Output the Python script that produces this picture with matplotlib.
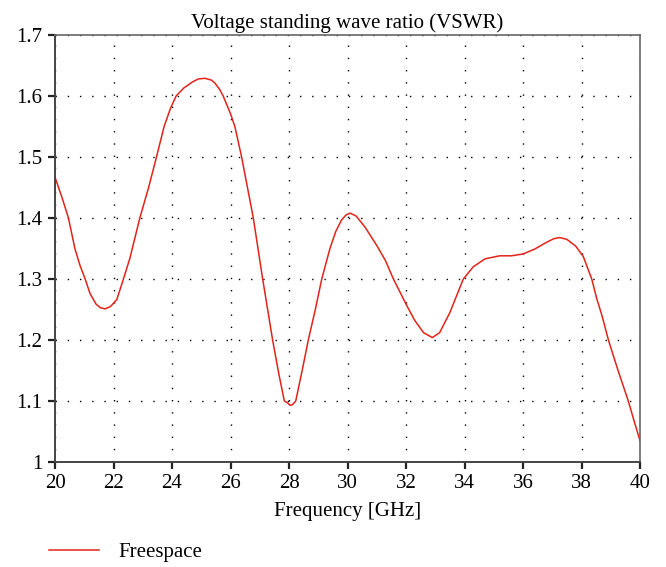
import matplotlib
matplotlib.use("Agg")
import matplotlib.pyplot as plt
from matplotlib.ticker import FuncFormatter

freq = [20.0, 20.25, 20.46, 20.68, 20.85, 21.03, 21.2, 21.4, 21.55, 21.71, 21.9, 22.11, 22.34,
        22.56, 22.9, 23.2, 23.47, 23.73, 23.95, 24.14, 24.4, 24.7, 24.9, 25.13, 25.35, 25.47,
        25.64, 25.75, 26.0, 26.15, 26.38, 26.58, 26.78, 27.1, 27.44, 27.65, 27.84, 27.95,
        28.03, 28.12, 28.23, 28.45, 28.66, 28.9, 29.12, 29.4, 29.6, 29.8, 29.95, 30.09, 30.3,
        30.6, 31.0, 31.3, 31.57, 32.02, 32.3, 32.6, 32.9, 33.15, 33.5, 33.96, 34.3, 34.7,
        35.2, 35.6, 36.0, 36.4, 36.8, 37.05, 37.25, 37.5, 37.8, 38.06, 38.35, 38.52, 38.7,
        38.92, 39.25, 39.6, 39.8, 40.0]
vswr = [1.467, 1.432, 1.400, 1.350, 1.323, 1.300, 1.276, 1.259, 1.253, 1.251, 1.255, 1.266,
        1.300, 1.334, 1.400, 1.450, 1.500, 1.550, 1.580, 1.600, 1.613, 1.623, 1.628, 1.629,
        1.626, 1.621, 1.610, 1.600, 1.571, 1.550, 1.500, 1.450, 1.400, 1.300, 1.200, 1.145,
        1.100, 1.097, 1.093, 1.094, 1.100, 1.150, 1.200, 1.250, 1.300, 1.350, 1.378, 1.397,
        1.405, 1.408, 1.403, 1.385, 1.355, 1.330, 1.300, 1.257, 1.232, 1.212, 1.204, 1.212,
        1.245, 1.300, 1.320, 1.333, 1.338, 1.338, 1.341, 1.349, 1.360, 1.366, 1.368, 1.365,
        1.354, 1.337, 1.300, 1.268, 1.240, 1.200, 1.150, 1.100, 1.067, 1.035]

xticks = [20, 22, 24, 26, 28, 30, 32, 34, 36, 38, 40]
yticks = [1.0, 1.1, 1.2, 1.3, 1.4, 1.5, 1.6, 1.7]
title = "Voltage standing wave ratio (VSWR)"
xlabel = "Frequency [GHz]"
series_name = "Freespace"

plt.rcParams['font.family'] = ['Liberation Serif', 'DejaVu Serif']
plt.rcParams['lines.scale_dashes'] = False

fig = plt.figure(figsize=(6.66, 5.67), dpi=100)
ax = fig.add_axes([55/666, 1 - 462/567, 585/666, 427/567])

line, = ax.plot(freq, vswr, color='#e2231a', lw=1.1, label=series_name,
                solid_joinstyle='round')

ax.set_xlim(20, 40)
ax.set_ylim(1.0, 1.7)
ax.set_xticks(xticks)
ax.set_yticks(yticks)
ax.yaxis.set_major_formatter(FuncFormatter(lambda v, p: f"{v:g}"))
ax.grid(True, color='black', linestyle=(0, (1.0, 7.8)), linewidth=1.0)
ax.set_axisbelow(True)
ax.tick_params(direction='out', length=5, width=1.6, labelsize=15, color='#222222', pad=4)
for s in ['left', 'bottom']:
    ax.spines[s].set_color('#444444')
    ax.spines[s].set_linewidth(1.4)
for s in ['top', 'right']:
    ax.spines[s].set_color('#666666')
    ax.spines[s].set_linewidth(1.2)

ax.set_title(title, fontsize=15, pad=5)
ax.set_xlabel(xlabel, fontsize=15, labelpad=6)

fig.legend(handles=[line], loc='center left', bbox_to_anchor=(45/666, 1 - 552/567),
           frameon=False, fontsize=15, handlelength=2.4, handletextpad=0.9,
           borderaxespad=0, borderpad=0.2)

fig.savefig("out.png", dpi=100)
